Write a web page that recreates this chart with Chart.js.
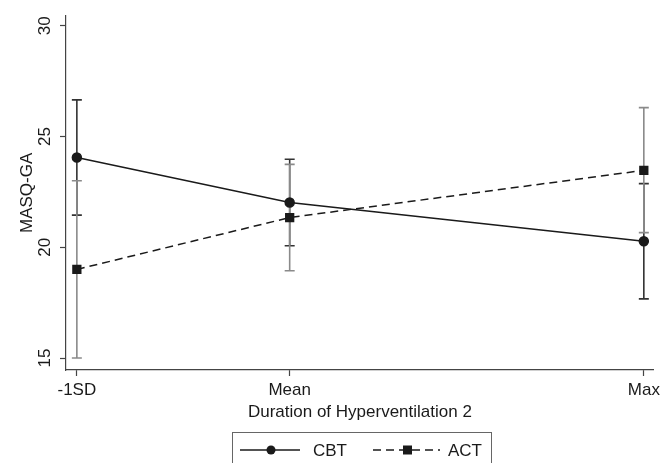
<!DOCTYPE html>
<html>
<head>
<meta charset="utf-8">
<script src="https://cdn.jsdelivr.net/npm/chart.js@4.4.1/dist/chart.umd.min.js"></script>
<style>
  html, body { margin: 0; padding: 0; background: #fff; }
  #wrap { width: 664px; height: 463px; }
</style>
</head>
<body>
<div id="wrap"><canvas id="chart" width="664" height="463"></canvas></div>
<script>
// data
const categories = ['-1SD', 'Mean', 'Max'];
const xValues = [-1, 0, 1.664];           // -1SD, mean and max of the predictor (standardized)
const seriesNames = ['CBT', 'ACT'];
const cbtValues = [24.05, 22.02, 20.27];
const cbtLower = [21.45, 20.07, 17.67];
const cbtUpper = [26.65, 23.97, 22.87];
const actValues = [19.0, 21.34, 23.47];
const actLower = [15.0, 18.94, 20.66];
const actUpper = [23.0, 23.74, 26.30];
const yTicks = [15, 20, 25, 30];

const FONT = '"Liberation Sans", Arial, Helvetica, sans-serif';
const INK = '#1a1a1a';

function points(vals) {
  return vals.map((v, i) => ({ x: xValues[i], y: v }));
}

// confidence intervals, drawn under the lines
const errorBars = {
  id: 'errorBars',
  beforeDatasetsDraw(chart) {
    const { ctx, scales: { x, y } } = chart;
    const sets = [
      { lo: cbtLower, hi: cbtUpper, color: '#333333' },
      { lo: actLower, hi: actUpper, color: '#8a8a8a' }
    ];
    ctx.save();
    sets.forEach(s => {
      ctx.strokeStyle = s.color;
      ctx.lineWidth = 1.6;
      xValues.forEach((xv, i) => {
        const px = x.getPixelForValue(xv);
        const top = y.getPixelForValue(s.hi[i]);
        const bot = y.getPixelForValue(s.lo[i]);
        ctx.beginPath();
        ctx.moveTo(px, top); ctx.lineTo(px, bot);
        ctx.moveTo(px - 5, top); ctx.lineTo(px + 5, top);
        ctx.moveTo(px - 5, bot); ctx.lineTo(px + 5, bot);
        ctx.stroke();
      });
    });
    ctx.restore();
  }
};

// boxed legend under the x axis title
const boxLegend = {
  id: 'boxLegend',
  afterDraw(chart) {
    const ctx = chart.ctx;
    ctx.save();
    ctx.strokeStyle = '#666';
    ctx.lineWidth = 1;
    ctx.strokeRect(232.5, 432.5, 259, 40);
    const cy = 450;
    ctx.strokeStyle = INK;
    ctx.fillStyle = INK;
    ctx.lineWidth = 1.5;
    // CBT
    ctx.setLineDash([]);
    ctx.beginPath(); ctx.moveTo(240, cy); ctx.lineTo(300, cy); ctx.stroke();
    ctx.beginPath(); ctx.arc(271, cy, 4.5, 0, Math.PI * 2); ctx.fill();
    // ACT
    ctx.setLineDash([8, 5]);
    ctx.beginPath(); ctx.moveTo(373, cy); ctx.lineTo(440, cy); ctx.stroke();
    ctx.setLineDash([]);
    ctx.fillRect(403, cy - 4.5, 9, 9);
    ctx.font = '17px ' + FONT;
    ctx.textBaseline = 'middle';
    ctx.textAlign = 'left';
    ctx.fillText(seriesNames[0], 313, cy + 1);
    ctx.fillText(seriesNames[1], 448, cy + 1);
    ctx.restore();
  }
};

new Chart(document.getElementById('chart'), {
  type: 'line',
  data: {
    datasets: [
      {
        label: seriesNames[0],
        data: points(cbtValues),
        borderColor: INK,
        backgroundColor: INK,
        borderWidth: 1.5,
        pointStyle: 'circle',
        pointRadius: 4.5,
        pointHoverRadius: 4.5,
        tension: 0
      },
      {
        label: seriesNames[1],
        data: points(actValues),
        borderColor: INK,
        backgroundColor: INK,
        borderWidth: 1.5,
        borderDash: [8, 5],
        pointStyle: 'rect',
        pointRadius: 5.5,
        pointHoverRadius: 5.5,
        tension: 0
      }
    ]
  },
  options: {
    responsive: false,
    animation: false,
    events: [],
    layout: { padding: { top: 12, right: 7, bottom: 35, left: 0 } },
    plugins: {
      legend: { display: false },
      tooltip: { enabled: false }
    },
    scales: {
      x: {
        type: 'linear',
        min: -1.051,
        max: 1.711,
        afterBuildTicks: s => { s.ticks = xValues.map(v => ({ value: v })); },
        afterFit: s => { s.height = 58; },
        ticks: {
          autoSkip: false,
          maxRotation: 0,
          padding: 4,
          color: INK,
          font: { family: FONT, size: 17 },
          callback: (v) => categories[xValues.indexOf(v)]
        },
        grid: { drawOnChartArea: false, drawTicks: true, tickLength: 6, color: '#444', tickWidth: 1.2 },
        border: { display: true, color: '#444', width: 1.2 },
        title: {
          display: true,
          text: 'Duration of Hyperventilation 2',
          color: INK,
          font: { family: FONT, size: 17 },
          padding: { top: 0, bottom: 5 }
        }
      },
      y: {
        min: 14.46,
        max: 30.45,
        afterBuildTicks: s => { s.ticks = yTicks.map(v => ({ value: v })); },
        afterFit: s => { s.width = 66; },
        ticks: {
          minRotation: 90,
          maxRotation: 90,
          crossAlign: 'center',
          padding: 5.5,
          color: INK,
          font: { family: FONT, size: 17 }
        },
        grid: { drawOnChartArea: false, drawTicks: true, tickLength: 6, color: '#444', tickWidth: 1.2 },
        border: { display: true, color: '#444', width: 1.2 },
        title: {
          display: true,
          text: 'MASQ-GA',
          color: INK,
          font: { family: FONT, size: 17 },
          padding: { top: 17, bottom: 0 }
        }
      }
    }
  },
  plugins: [errorBars, boxLegend]
});
</script>
</body>
</html>
